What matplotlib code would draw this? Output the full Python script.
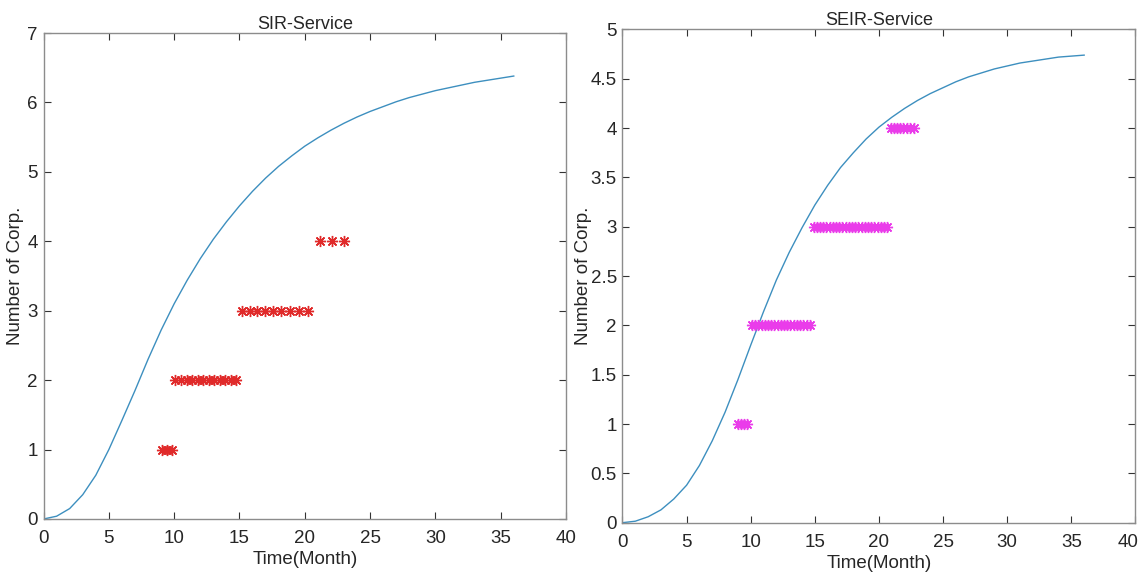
"""
SIR / SEIR service adoption curves with observed corporation counts.
"""

import matplotlib

matplotlib.use("Agg")
import matplotlib.pyplot as plt
import matplotlib.transforms as mtransforms

plt.rcParams["font.family"] = ["Liberation Sans", "DejaVu Sans"]

# SIR model curve
sir_t = [0, 1, 2, 3, 4, 5, 6, 7, 8, 9, 10, 11, 12, 13, 14, 15, 16, 17, 18,
         19, 20, 21, 22, 23, 24, 25, 26, 27, 28, 29, 30, 31, 32, 33, 34, 35, 36]
sir_v = [0.0, 0.04, 0.15, 0.35, 0.63, 1.0, 1.42, 1.85, 2.3, 2.72, 3.1, 3.44, 3.75,
         4.03, 4.28, 4.51, 4.72, 4.91, 5.08, 5.23, 5.37, 5.49, 5.6, 5.7, 5.79, 5.87,
         5.94, 6.01, 6.07, 6.12, 6.17, 6.21, 6.25, 6.29, 6.32, 6.35, 6.38]

# SIR observed points
sir_obs_t = [9.08, 9.45, 9.83,
             10.1, 10.52, 10.95, 11.37, 11.8, 12.22, 12.64, 13.07, 13.49, 13.92, 14.34, 14.76,
             15.19, 15.77, 16.35, 16.95, 17.56, 18.19, 18.87, 19.58, 20.28,
             21.2, 22.1, 23.0]
sir_obs_v = [1, 1, 1,
             2, 2, 2, 2, 2, 2, 2, 2, 2, 2, 2, 2,
             3, 3, 3, 3, 3, 3, 3, 3, 3,
             4, 4, 4]

# SEIR model curve
seir_t = [0, 1, 2, 3, 4, 5, 6, 7, 8, 9, 10, 11, 12, 13, 14, 15, 16, 17, 18,
          19, 20, 21, 22, 23, 24, 25, 26, 27, 28, 29, 30, 31, 32, 33, 34, 35, 36]
seir_v = [0.0, 0.015, 0.06, 0.13, 0.24, 0.38, 0.58, 0.83, 1.12, 1.45, 1.8, 2.14,
          2.46, 2.74, 2.99, 3.22, 3.42, 3.6, 3.75, 3.89, 4.01, 4.11, 4.2, 4.28, 4.35,
          4.41, 4.47, 4.52, 4.56, 4.6, 4.63, 4.66, 4.68, 4.7, 4.72, 4.73, 4.74]

# SEIR observed points
seir_obs_t = [9.0, 9.25, 9.5, 9.7,
              10.1, 10.35, 10.6, 10.85, 11.1, 11.35, 11.6, 11.85, 12.1, 12.35,
              12.6, 12.85, 13.1, 13.35, 13.6, 13.85, 14.1, 14.35, 14.6,
              14.9, 15.15, 15.4, 15.65, 15.9, 16.15, 16.4, 16.65, 16.9, 17.15,
              17.4, 17.65, 17.9, 18.15, 18.4, 18.65, 18.9, 19.15, 19.4, 19.65,
              19.9, 20.15, 20.4, 20.6,
              20.9, 21.15, 21.4, 21.65, 21.9, 22.15, 22.4, 22.7]
seir_obs_v = [1] * 4 + [2] * 19 + [3] * 24 + [4] * 8

LINE_COLOR = "#3d8fbf"
ASTERISK = (8, 2, 0)
TEXT = "#262626"


def style_axes(ax, xmax, ymax, yticks, ylabels, ylab_x):
    ax.set_xlim(0, xmax)
    ax.set_ylim(0, ymax)
    ax.set_xticks(range(0, xmax + 1, 5))
    ax.set_yticks(yticks)
    ax.set_yticklabels(ylabels)
    ax.tick_params(direction="in", top=True, right=True, length=5, width=0.8,
                   color="#333333", labelsize=13.5, labelcolor=TEXT)
    ax.tick_params(axis="x", pad=8)
    ax.tick_params(axis="y", pad=4)
    for sp in ax.spines.values():
        sp.set_color("#8c8c8c")
        sp.set_linewidth(1.0)
    ax.set_xlabel("Time(Month)", fontsize=13.5, color=TEXT, labelpad=3)
    ax.set_ylabel("Number of Corp.", fontsize=13.5, color=TEXT)
    ax.yaxis.set_label_coords(ylab_x, 0.5)


def main():
    fig = plt.figure(figsize=(11.43, 5.78), dpi=100)

    ax1 = fig.add_axes([0.0381, 0.1021, 0.4571, 0.8408])
    ax1.plot(sir_t, sir_v, color=LINE_COLOR, lw=1.0)
    ax1.plot(sir_obs_t, sir_obs_v, ls="none", marker=ASTERISK, ms=8, mew=1.0,
             color="#e02a2a")
    style_axes(ax1, 40, 7, range(0, 8), [str(i) for i in range(0, 8)], -0.037)
    ax1.set_title("SIR-Service", fontsize=13, color=TEXT, pad=3)

    ax2 = fig.add_axes([0.5446, 0.0957, 0.4488, 0.8533])
    ax2.plot(seir_t, seir_v, color=LINE_COLOR, lw=1.0)
    ax2.plot(seir_obs_t, seir_obs_v, ls="none", marker=ASTERISK, ms=8, mew=1.0,
             color="#ea3cea")
    yt = [i * 0.5 for i in range(11)]
    style_axes(ax2, 40, 5, yt, ["0", "0.5", "1", "1.5", "2", "2.5", "3", "3.5",
                                "4", "4.5", "5"], -0.059)
    ax2.set_title("SEIR-Service", fontsize=13, color=TEXT, pad=3)

    # keep the last x tick label inside the figure edge
    last = ax2.get_xticklabels()[-1]
    shift = mtransforms.ScaledTranslation(-5 / 72, 0, fig.dpi_scale_trans)
    last.set_transform(last.get_transform() + shift)

    fig.savefig("out.png", dpi=100)


if __name__ == "__main__":
    main()
